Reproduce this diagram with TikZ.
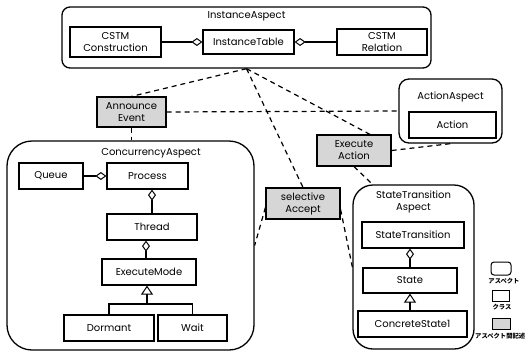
\documentclass[tikz,border=0pt]{standalone}
\usepackage{fontspec}
\setmainfont{Poppins}
\newfontfamily\jpfont{Noto Sans CJK JP}
\usetikzlibrary{arrows.meta}
\definecolor{grayfill}{gray}{0.84}
\tikzset{
  every node/.style={font=\fontsize{10}{12}\selectfont, inner sep=0pt, align=center},
  aspectbox/.style={draw, line width=1.3pt},
  clsbox/.style={draw, line width=1.2pt, fill=white},
  descbox/.style={draw, line width=1.2pt, fill=grayfill},
  conn/.style={line width=1.1pt},
  dashconn/.style={line width=1.2pt, dash pattern=on 5pt off 4pt},
  aggr/.style={conn, -{Diamond[open, length=11pt, width=8pt, line width=1pt]}},
  inher/.style={conn, -{Triangle[open, length=9pt, width=12pt, line width=1pt]}},
  lbl/.style={font=\fontsize{10}{12.5}\selectfont},
  jplbl/.style={font=\jpfont\fontsize{6.3}{7}\selectfont\bfseries}
}
\begin{document}
\begin{tikzpicture}[x=1pt, y=-1pt]
\path[use as bounding box] (0,0) rectangle (528,354);

% aspects
\node[aspectbox, rounded corners=8pt, minimum width=369pt, minimum height=61pt] (IA) at (246.5,37.5) {};
\node[lbl] (IAt) at (246.5,16) {InstanceAspect};
\node[aspectbox, rounded corners=10pt, minimum width=103pt, minimum height=64pt] (AA) at (450.5,111) {};
\node[lbl] (AAt) at (450.5,97) {ActionAspect};
\node[aspectbox, rounded corners=25pt, minimum width=247pt, minimum height=209pt] (CA) at (130.5,245.5) {};
\node[lbl] (CAt) at (151,153) {ConcurrencyAspect};
\node[aspectbox, rounded corners=20pt, minimum width=121pt, minimum height=164pt] (STA) at (413.5,267) {};
\node[lbl] (STAt) at (413.5,202) {StateTransition\\Aspect};

% classes
\node[clsbox, minimum width=91pt, minimum height=30pt] (CC) at (115.5,42) {CSTM\\Construction};
\node[clsbox, minimum width=91pt, minimum height=24pt] (IT) at (248.5,42) {InstanceTable};
\node[clsbox, minimum width=90pt, minimum height=26pt] (CR) at (382,42) {CSTM\\Relation};
\node[clsbox, minimum width=87pt, minimum height=26pt] (AC) at (452.5,125) {Action};
\node[clsbox, minimum width=64pt, minimum height=26pt] (QU) at (51,176) {Queue};
\node[clsbox, minimum width=81pt, minimum height=26pt] (PR) at (147.5,176) {Process};
\node[clsbox, minimum width=90pt, minimum height=26pt] (TH) at (152,227) {Thread};
\node[clsbox, minimum width=94pt, minimum height=26pt] (EM) at (149,272) {ExecuteMode};
\node[clsbox, minimum width=90pt, minimum height=26pt] (DO) at (109,328) {Dormant};
\node[clsbox, minimum width=69pt, minimum height=26pt] (WA) at (192.5,328) {Wait};
\node[clsbox, minimum width=102pt, minimum height=26pt] (STr) at (413,235) {StateTransition};
\node[clsbox, minimum width=94pt, minimum height=25pt] (ST) at (410,280.5) {State};
\node[clsbox, minimum width=109pt, minimum height=26pt] (CS) at (412.5,324) {ConcreteState1};

% inter-aspect descriptions
\node[descbox, minimum width=69pt, minimum height=30pt] (AE) at (131.5,112) {Announce\\Event};
\node[descbox, minimum width=74pt, minimum height=31pt] (EA) at (354,150.5) {Execute\\Action};
\node[descbox, minimum width=74pt, minimum height=31pt] (SA) at (303,203.5) {selective\\Accept};

% class connectors
\draw[aggr] (CC.east) -- (IT.west);
\draw[aggr] (CR.west) -- (IT.east);
\draw[aggr] (QU.east) -- (PR.west);
\draw[aggr] (TH.north) -- (TH.north |- PR.south);
\draw[aggr] ([xshift=-3pt]EM.north) -- ([xshift=-3pt]EM.north |- TH.south);
\coordinate (bus) at (EM.south |- 0,304);
\draw[inher] ([xshift=-2pt]bus) -- ([xshift=-2pt]EM.south);
\draw[conn] (DO.north) |- (bus) -| (WA.north);
\draw[aggr] (ST.north) -- (ST.north |- STr.south);
\draw[inher] (CS.north -| ST.south) -- (ST.south);

% dashed connectors
\draw[dashconn] (IA.south) -- (AE.north);
\draw[dashconn] (IA.south) -- (SA.north);
\draw[dashconn] (IA.south) -- ([xshift=16pt]EA.north);
\draw[dashconn] (AE.east) -- (AA.west);
\draw[dashconn] (AE.south) -- (AE.south |- CA.north);
\draw[dashconn] (EA.east) -- (AA.south);
\draw[dashconn] (EA.south) -- ([xshift=-41pt]STA.north);
\draw[dashconn] ([yshift=-4pt]SA.west) -- (CA.east);
\draw[dashconn] ([yshift=-6pt]SA.east) -- (STA.west);

% legend
\node[draw, line width=1pt, rounded corners=3pt, minimum width=20pt, minimum height=13pt] (L1) at (501,268.5) {};
\node[jplbl] (L1t) at (504,281) {アスペクト};
\node[draw, line width=1pt, minimum width=17pt, minimum height=11pt] (L2) at (500.5,295.5) {};
\node[jplbl] (L2t) at (502,307.5) {クラス};
\node[draw, line width=1pt, fill=grayfill, minimum width=18pt, minimum height=11pt] (L3) at (501,323.5) {};
\node[jplbl, anchor=west] (L3t) at (475,336) {アスペクト間記述};
\end{tikzpicture}
\end{document}
